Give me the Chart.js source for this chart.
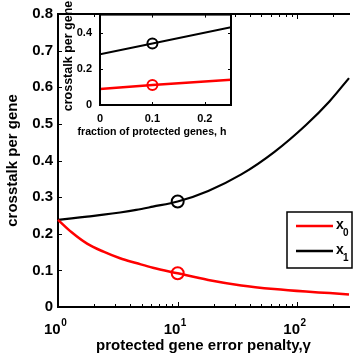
<!DOCTYPE html>
<html>
<head>
<meta charset="utf-8">
<script src="https://cdn.jsdelivr.net/npm/chart.js@4.4.0/dist/chart.umd.min.js"></script>
<style>
  html, body { margin: 0; padding: 0; background: #fff; overflow: hidden; }
  #wrap { position: relative; width: 357px; height: 361px; }
  #mainChart { position: absolute; left: 0; top: 0; }
  #insetChart { position: absolute; left: 60px; top: 0; }
</style>
</head>
<body>
<div id="wrap">
  <canvas id="mainChart" width="357" height="361"></canvas>
  <canvas id="insetChart" width="190" height="140"></canvas>
</div>
<script>
// main panel: crosstalk per gene vs protected gene error penalty (log x)
const gamma = [1, 1.3, 1.75, 2.4, 3.3, 4.5, 6.2, 10, 18, 34, 64, 118, 186, 270];
const x0Values = [0.238, 0.204, 0.173, 0.151, 0.133, 0.120, 0.107, 0.092, 0.074, 0.059, 0.049, 0.042, 0.038, 0.034];
const x1Values = [0.238, 0.242, 0.247, 0.252, 0.258, 0.265, 0.274, 0.288, 0.317, 0.362, 0.423, 0.497, 0.562, 0.625];
const markerGamma = [10];
const x0Marker = [0.092];
const x1Marker = [0.288];
const yTicks = [0, 0.1, 0.2, 0.3, 0.4, 0.5, 0.6, 0.7, 0.8];
const xDecades = [1, 10, 100];
const xExponents = ['0', '1', '2'];

// inset: crosstalk per gene vs fraction of protected genes
const hFrac = [0, 0.1, 0.25];
const insetX0 = [0.089, 0.11, 0.139];
const insetX1 = [0.28, 0.34, 0.43];
const insetMarkerH = [0.1];
const insetX0Marker = [0.11];
const insetX1Marker = [0.34];
const insetXTicks = [0, 0.1, 0.2];
const insetYTicks = [0, 0.2, 0.4];

const FONT = '"Liberation Sans", Arial, sans-serif';
Chart.defaults.font.family = FONT;
Chart.defaults.font.weight = 'bold';
Chart.defaults.color = '#000';

const RED = '#ff0000';
const BLACK = '#000000';

function pts(xs, ys) {
  return xs.map((v, i) => ({ x: v, y: ys[i] }));
}

function seg(ctx, x1, y1, x2, y2) {
  ctx.beginPath();
  ctx.moveTo(x1, y1);
  ctx.lineTo(x2, y2);
  ctx.stroke();
}

const mainDecor = {
  id: 'mainDecor',
  afterDraw(chart) {
    const { ctx, chartArea: a, scales: { x, y } } = chart;
    ctx.save();
    ctx.strokeStyle = '#000';
    ctx.lineWidth = 1;
    // inward ticks on bottom and top axes
    for (const d of xDecades) {
      for (let k = 1; k < 10; k++) {
        const v = d * k;
        if (v > x.max) break;
        const px = Math.round(x.getPixelForValue(v)) + 0.5;
        const len = k === 1 ? 5 : 3;
        seg(ctx, px, a.bottom, px, a.bottom - len);
        seg(ctx, px, a.top, px, a.top + len);
      }
    }
    // inward ticks on left axis
    for (const t of yTicks) {
      const py = Math.round(y.getPixelForValue(t)) + 0.5;
      seg(ctx, a.left, py, a.left + 4, py);
    }
    // x tick labels 10^n
    ctx.fillStyle = '#000';
    ctx.textBaseline = 'alphabetic';
    ctx.textAlign = 'left';
    xDecades.forEach((d, i) => {
      const px = x.getPixelForValue(d);
      ctx.font = 'bold 15px ' + FONT;
      ctx.fillText('10', px - 14, 334);
      const w = ctx.measureText('10').width;
      ctx.font = 'bold 10px ' + FONT;
      ctx.fillText(xExponents[i], px - 14 + w + 0.5, 326);
    });
    // legend
    ctx.fillStyle = '#fff';
    ctx.fillRect(287, 212, 65, 56);
    ctx.lineWidth = 1.5;
    ctx.strokeStyle = '#000';
    ctx.strokeRect(287, 212, 65, 56);
    const items = [
      { color: RED, sub: '0', y: 226 },
      { color: BLACK, sub: '1', y: 251 }
    ];
    for (const it of items) {
      ctx.strokeStyle = it.color;
      ctx.lineWidth = 2.5;
      seg(ctx, 296, it.y, 333, it.y);
      ctx.fillStyle = '#000';
      ctx.font = 'bold 14px ' + FONT;
      ctx.fillText('x', 336, it.y + 3);
      ctx.font = 'bold 10px ' + FONT;
      ctx.fillText(it.sub, 343, it.y + 10);
    }
    ctx.restore();
  }
};

new Chart(document.getElementById('mainChart').getContext('2d'), {
  type: 'line',
  data: {
    datasets: [
      {
        label: 'x0',
        data: pts(gamma, x0Values),
        borderColor: RED,
        borderWidth: 2.5,
        pointRadius: 0,
        cubicInterpolationMode: 'monotone'
      },
      {
        label: 'x1',
        data: pts(gamma, x1Values),
        borderColor: BLACK,
        borderWidth: 2.2,
        pointRadius: 0,
        cubicInterpolationMode: 'monotone'
      },
      {
        data: pts(markerGamma, x0Marker),
        showLine: false,
        pointRadius: 6,
        pointBorderWidth: 2,
        pointBorderColor: RED,
        pointBackgroundColor: 'rgba(0,0,0,0)'
      },
      {
        data: pts(markerGamma, x1Marker),
        showLine: false,
        pointRadius: 6,
        pointBorderWidth: 2,
        pointBorderColor: BLACK,
        pointBackgroundColor: 'rgba(0,0,0,0)'
      }
    ]
  },
  options: {
    responsive: false,
    animation: false,
    clip: false,
    layout: { padding: 0 },
    plugins: { legend: { display: false }, tooltip: { enabled: false } },
    scales: {
      x: {
        type: 'logarithmic',
        position: 'bottom',
        min: 1,
        max: 270,
        grid: { display: false, drawTicks: false },
        border: { display: true, color: '#000', width: 2 },
        ticks: { display: false },
        title: {
          display: true,
          text: 'protected gene error penalty,γ',
          font: { size: 15, weight: 'bold' },
          padding: { top: 0, bottom: 6 }
        },
        afterFit(s) { s.height = 54; }
      },
      xTop: {
        type: 'logarithmic',
        position: 'top',
        min: 1,
        max: 270,
        grid: { display: false, drawTicks: false },
        border: { display: true, color: '#000', width: 2 },
        ticks: { display: false },
        afterFit(s) { s.height = 4; }
      },
      y: {
        min: 0,
        max: 0.8,
        grid: { display: false, drawTicks: false },
        border: { display: true, color: '#000', width: 2 },
        afterBuildTicks(s) { s.ticks = yTicks.map(v => ({ value: v })); },
        ticks: {
          font: { size: 15, weight: 'bold' },
          padding: 5,
          callback: v => String(+v.toFixed(1))
        },
        title: {
          display: true,
          text: 'crosstalk per gene',
          font: { size: 15, weight: 'bold' },
          padding: { top: 4, bottom: 0 }
        },
        afterFit(s) { s.width = 58; }
      }
    }
  },
  plugins: [mainDecor]
});

const insetDecor = {
  id: 'insetDecor',
  beforeDatasetsDraw(chart) {
    const { ctx, chartArea: a } = chart;
    ctx.save();
    ctx.fillStyle = '#fff';
    ctx.fillRect(a.left, a.top, a.right - a.left, a.bottom - a.top);
    ctx.restore();
  },
  afterDraw(chart) {
    const { ctx, chartArea: a, scales: { x, y } } = chart;
    ctx.save();
    ctx.strokeStyle = '#000';
    ctx.lineWidth = 1;
    for (const t of insetXTicks) {
      const px = Math.round(x.getPixelForValue(t)) + 0.5;
      seg(ctx, px, a.bottom, px, a.bottom - 3);
      seg(ctx, px, a.top, px, a.top + 3);
    }
    for (const t of insetYTicks) {
      const py = Math.round(y.getPixelForValue(t)) + 0.5;
      seg(ctx, a.left, py, a.left + 3, py);
      seg(ctx, a.right, py, a.right - 3, py);
    }
    ctx.lineWidth = 2;
    ctx.strokeRect(a.left, a.top, a.right - a.left, a.bottom - a.top);
    ctx.fillStyle = '#000';
    ctx.textAlign = 'center';
    ctx.textBaseline = 'middle';
    // x title, centred slightly left of the axis like the original
    ctx.font = 'bold 10.6px ' + FONT;
    ctx.fillText('fraction of protected genes, h', 92, 132);
    // rotated y title
    ctx.font = 'bold 12.5px ' + FONT;
    ctx.translate(8.5, 56);
    ctx.rotate(-Math.PI / 2);
    ctx.fillText('crosstalk per gene', 0, 0);
    ctx.restore();
  }
};

new Chart(document.getElementById('insetChart').getContext('2d'), {
  type: 'line',
  data: {
    datasets: [
      {
        data: pts(hFrac, insetX0),
        borderColor: RED,
        borderWidth: 2.5,
        pointRadius: 0
      },
      {
        data: pts(hFrac, insetX1),
        borderColor: BLACK,
        borderWidth: 2,
        pointRadius: 0
      },
      {
        data: pts(insetMarkerH, insetX0Marker),
        showLine: false,
        pointRadius: 5,
        pointBorderWidth: 2,
        pointBorderColor: RED,
        pointBackgroundColor: 'rgba(0,0,0,0)'
      },
      {
        data: pts(insetMarkerH, insetX1Marker),
        showLine: false,
        pointRadius: 5,
        pointBorderWidth: 2,
        pointBorderColor: BLACK,
        pointBackgroundColor: 'rgba(0,0,0,0)'
      }
    ]
  },
  options: {
    responsive: false,
    animation: false,
    layout: { padding: { top: 12, right: 19, left: 0, bottom: 0 } },
    plugins: { legend: { display: false }, tooltip: { enabled: false } },
    scales: {
      x: {
        type: 'linear',
        min: 0,
        max: 0.25,
        grid: { display: false, drawTicks: false },
        border: { display: false },
        afterBuildTicks(s) { s.ticks = insetXTicks.map(v => ({ value: v })); },
        ticks: {
          font: { size: 11, weight: 'bold' },
          padding: 7,
          maxRotation: 0,
          callback: v => String(+v.toFixed(1))
        },
        afterFit(s) { s.height = 35; }
      },
      y: {
        min: 0,
        max: 0.5,
        grid: { display: false, drawTicks: false },
        border: { display: false },
        afterBuildTicks(s) { s.ticks = insetYTicks.map(v => ({ value: v })); },
        ticks: {
          font: { size: 11, weight: 'bold' },
          padding: 8,
          callback: v => String(+v.toFixed(1))
        },
        afterFit(s) { s.width = 40; }
      }
    }
  },
  plugins: [insetDecor]
});
</script>
</body>
</html>
